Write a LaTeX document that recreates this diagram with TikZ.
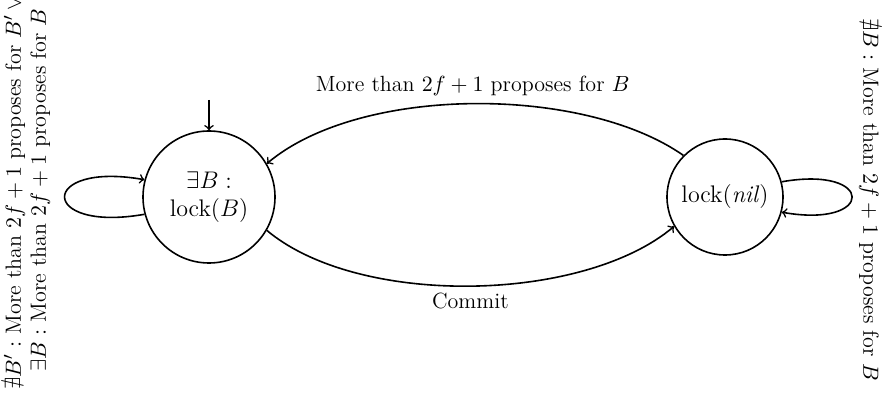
\documentclass[tikz,border=0pt]{standalone}
\usepackage{amssymb}
\usetikzlibrary{arrows}
\begin{document}
\begin{tikzpicture}[x=0.5pt,y=0.5pt,
  font=\fontsize{11}{12.5}\selectfont,
  state/.style={draw,circle,thick,align=center,inner sep=1pt,font=\fontsize{12}{14}\selectfont},
  conn/.style={->,thick},
  looplabel/.style={align=center,inner sep=0pt}]
\useasboundingbox (0,0) rectangle (890,-401);
\node[state,minimum size=66pt] (l) at (209,-197) {$\exists B :$\\lock$(B)$};
\node[state,minimum size=58pt] (r) at (725,-197) {lock(\textit{nil})};
\coordinate (init) at (209,-100);
\draw[conn] (init) -- (l.north);
\draw[conn] (r.135) to[out=145,in=40,looseness=0.75]
  node[above] (tl) {More than $2f+1$ proposes for $B$} (l.30);
\draw[conn] (l.-30) to[out=-40,in=-140,looseness=0.75]
  node[below] (bl) {Commit} (r.210);
\draw[conn] (l.195) .. controls +(190:108) and +(170:108) .. (l.165);
\draw[conn] (r.15) .. controls +(10:95) and +(-10:95) .. (r.-15);
\node[looplabel,rotate=90] (ll) at (27,-190)
  {$\nexists B' :$ More than $2f+1$ proposes for $B' \lor{}$\\
   $\exists B :$ More than $2f+1$ proposes for $B$};
\node[looplabel,rotate=-90] (rl) at (869,-200)
  {$\nexists B :$ More than $2f+1$ proposes for $B$};
\end{tikzpicture}
\end{document}
